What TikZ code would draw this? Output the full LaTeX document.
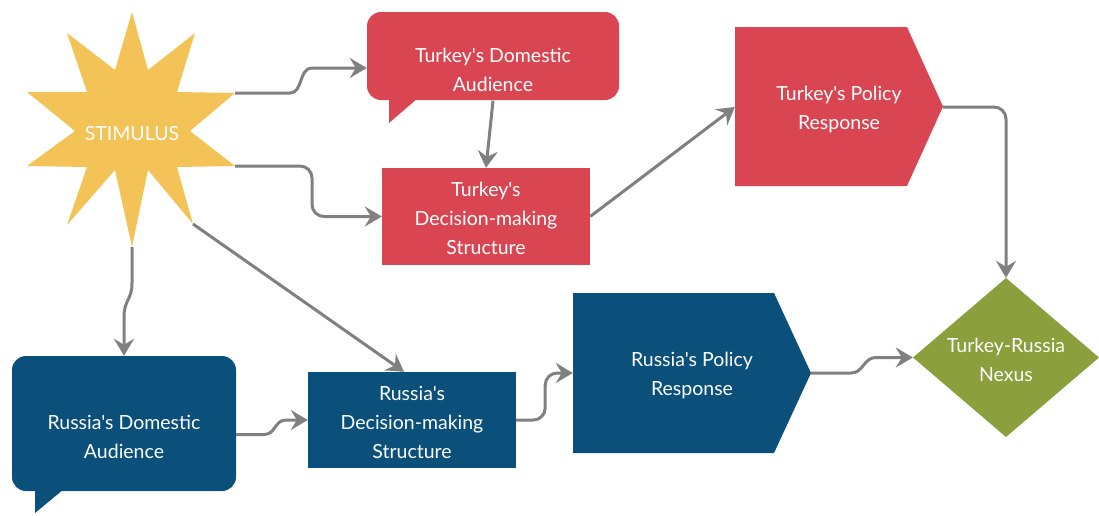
\documentclass[tikz,border=0pt]{standalone}
\usepackage{fontspec}
\newfontfamily\lato{Lato}
\usetikzlibrary{arrows.meta,calc}
\definecolor{tred}{HTML}{D94651}
\definecolor{rblue}{HTML}{0A507A}
\definecolor{ngreen}{HTML}{8BA03C}
\definecolor{syellow}{HTML}{F3C358}
\definecolor{cgray}{HTML}{808080}
\tikzset{
  lbl/.style={text=white, align=center, font=\lato\fontsize{19.5}{29}\selectfont, inner sep=0pt, draw=none, rectangle},
  conn/.style={draw=cgray, line width=3pt, -{Stealth[length=17pt,width=20pt,inset=6pt]}},
}
\begin{document}
\begin{tikzpicture}[x=1pt,y=-1pt]
\useasboundingbox (0,0) rectangle (1099,515);
% ---- shapes ----
% star
\fill[syellow] (132,12) -- (148,70) -- (195,33) -- (177,92) -- (235,93) -- (190,131)
  -- (235,166) -- (177,167) -- (193,224) -- (148,170) -- (132,247) -- (115,170)
  -- (67,225) -- (87,167) -- (27,166) -- (75,131) -- (27,92) -- (87,92) -- (67,33)
  -- (115,70) -- cycle;
\coordinate (stRU) at (235,93);
\coordinate (stRL) at (235,166);
\coordinate (stLR) at (193,224);
\coordinate (stB) at (132,247);
% Turkey domestic audience bubble
\fill[tred, rounded corners=14pt] (367,12) rectangle (619,100);
\fill[tred] (389,98) -- (418,98) -- (389,123) -- cycle;
% Turkey decision
\fill[tred] (382,168) rectangle (590,265);
% Turkey policy
\fill[tred] (735,27) -- (907,27) -- (943,106.5) -- (907,186) -- (735,186) -- cycle;
% Nexus diamond
\fill[ngreen] (913,357.5) -- (1006,278) -- (1099,357.5) -- (1006,437) -- cycle;
% Russia policy
\fill[rblue] (573,293) -- (774,293) -- (811,373) -- (774,453) -- (573,453) -- cycle;
% Russia decision
\fill[rblue] (308,372) rectangle (516,468);
% Russia domestic audience bubble
\fill[rblue, rounded corners=14pt] (12,356) rectangle (236,491);
\fill[rblue] (35,489) -- (64,489) -- (35,513) -- cycle;
% ---- nodes ----
\node[lbl] (stim) at (132,134) {STIMULUS};
\node[lbl, minimum width=252pt, minimum height=111pt] (tda) at (493,68) {};
\node[lbl] (tdaT) at (493,70) {Turkey's Domestic\\Audience};
\node[lbl, minimum width=208pt, minimum height=97pt] (td) at (486,216.5) {};
\node[lbl] (tdT) at (486,218.5) {Turkey's\\Decision-making\\Structure};
\node[lbl, minimum width=208pt, minimum height=159pt] (tp) at (839,107) {};
\node[lbl] (tpT) at (839,109) {Turkey's Policy\\Response};
\node[lbl, minimum width=186pt, minimum height=159pt] (nx) at (1006,357.5) {};
\node[lbl] (nxT) at (1006,359.5) {Turkey-Russia\\Nexus};
\node[lbl, minimum width=238pt, minimum height=160pt] (rp) at (692,373) {};
\node[lbl] (rpT) at (692,375) {Russia's Policy\\Response};
\node[lbl, minimum width=208pt, minimum height=96pt] (rd) at (412,420) {};
\node[lbl] (rdT) at (412,422) {Russia's\\Decision-making\\Structure};
\node[lbl, minimum width=224pt, minimum height=157pt] (rda) at (124,434.5) {};
\node[lbl] (rdaT) at (124,437) {Russia's Domestic\\Audience};
% ---- connectors ----
\draw[conn] (stRU) -- ++(55,0) .. controls +(13,0) and +(-13,0) .. ($(tda.west)+(-55,0)$) -- (tda.west);
\draw[conn, rounded corners=12pt] (stRL) -- ++(77,0) |- (td.west);
\draw[conn] ($(tda.south)+(0,-23)$) -- (td.north);
\draw[conn] (td.east) -- (tp.west);
\draw[conn, rounded corners=12pt] (tp.east) -| (nx.north);
\draw[conn] (stB) -- ++(0,36) .. controls +(0,17) and +(0,-17) .. ($(rda.north)+(0,-39)$) -- (rda.north);
\draw[conn] (stLR) -- ($(rd.north)+(-8,0)$);
\draw[conn] (rda.east) -- ++(28,0) .. controls +(11,0) and +(-11,0) .. ($(rd.west)+(-22,0)$) -- (rd.west);
\draw[conn, rounded corners=12pt] (rd.east) -- ++(29,0) |- (rp.west);
\draw[conn] (rp.east) -- ++(40,0) .. controls +(12,0) and +(-12,0) .. ($(nx.west)+(-37,0)$) -- (nx.west);
\end{tikzpicture}
\end{document}
